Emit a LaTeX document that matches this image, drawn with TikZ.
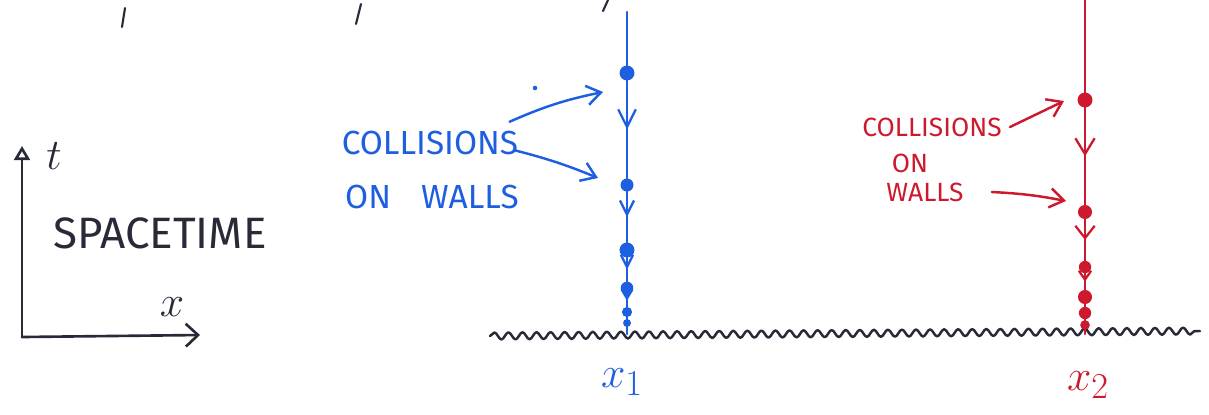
\documentclass[tikz,border=0pt]{standalone}
\usepackage{fontspec}
\setmainfont{Fira Sans}
\usepackage{tikz}
\usetikzlibrary{arrows.meta,positioning,calc,decorations.pathmorphing,decorations.markings}
\definecolor{penblue}{RGB}{30,95,225}
\definecolor{penred}{RGB}{205,25,45}
\definecolor{penink}{RGB}{40,42,55}

\begin{document}
\begin{tikzpicture}[
  x=0.02cm, y=-0.02cm,
  ink/.style={line width=1.5pt,line cap=round,line join=round},
  wl/.style={ink,line width=1.3pt},
  ev/.style={circle,fill,inner sep=0pt,minimum size=#1},
  fall/.style args={#1/#2}{postaction={decorate},decoration={markings,
      mark=at position 0.5 with {\arrow{Straight Barb[length=#1,width=#2,line width=1.3pt]}}}},
  ptr/.style={ink,line width=1.4pt,-{Straight Barb[length=8pt,width=11pt]}},
  walltxt/.style={inner sep=0pt,font=\fontsize{#1}{#1}\selectfont},
  ground/.style={ink,draw=penink,line width=1.4pt,decorate,
      decoration={snake,amplitude=2pt,segment length=8pt}}
]
\useasboundingbox (0,0) rectangle (1209,414);

% stray strokes from the line above
\draw[ink,penink,line width=1.2pt] (125,8) -- (122,27);
\draw[ink,penink,line width=1.2pt] (361,4) -- (356,24);
\draw[ink,penink,line width=1.2pt] (608,0) -- (603,11);

% axes
\coordinate (O) at (22,337);
\coordinate (tend) at (22,146);
\coordinate (xend) at (200,335);
\draw[ink,penink,-{Triangle[open,length=8pt,width=9pt]}] (O) -- (tend);
\draw[ink,penink,-{Straight Barb[length=7pt,width=13pt]}] (O) -- (xend);
\node[penink,font=\fontsize{26}{26}\selectfont] (tlab) at (54,156) {$t$};
\node[penink,font=\fontsize{26}{26}\selectfont] (xlab) at (172,307) {$x$};
\node[penink,walltxt=25] (spacetime) at (160,233) {SPACETIME};

% ground
\coordinate (g0) at (490,336);
\coordinate (g1) at (1200,331);
\draw[ground] (g0) -- (g1);

% blue wall
\coordinate (btop) at (627,12);
\coordinate (bbase) at (627,334);
\draw[wl,penblue] (btop) -- (bbase);
\foreach \n/\y/\s in {1/73/8.5,2/185/7.4,3/250/8.5,4/288/7.2,5/312/5.8,6/323/4.5}
  \node[ev=\s pt,penblue] (b\n) at (627,\y) {};
\foreach \a/\b/\l/\w in {1/2/10pt/10pt,2/3/8pt/8pt,3/4/7pt/7pt,4/5/5pt/6pt}
  \draw[wl,penblue,fall={\l/\w}] (b\a) -- (b\b);

\node[penblue,walltxt=19] (bcoll) at (430,143) {COLLISIONS};
\node[penblue,walltxt=19] (bwall) at (432,197) {ON\hspace{0.9em}WALLS};
\coordinate (bt1) at (603,92);
\coordinate (bt2) at (598,178);
\draw[ptr,penblue] (bcoll.north east) ++(-9,-9) coordinate (bs1)
  to[bend left=6] (bt1);
\draw[ptr,penblue] (bcoll.south east) ++(-4,-5) coordinate (bs2)
  to[bend left=4] (bt2);
\fill[penblue] (535,88) circle (1.3pt);

% red wall
\coordinate (rtop) at (1085,0);
\coordinate (rbase) at (1085,334);
\draw[wl,penred] (rtop) -- (rbase);
\foreach \n/\y/\s in {1/100/8.5,2/212/8,3/267/7,4/297/8,5/313/7,6/325/5.5}
  \node[ev=\s pt,penred] (r\n) at (1085,\y) {};
\foreach \a/\b/\l/\w in {1/2/9pt/11pt,2/3/7pt/11pt,3/4/5pt/7pt}
  \draw[wl,penred,fall={\l/\w}] (r\a) -- (r\b);

\node[penred,walltxt=15] (rcoll) at (932,127) {COLLISIONS};
\node[penred,walltxt=15] (ron) at (910,163) {ON};
\node[penred,walltxt=15] (rwall) at (925,192) {WALLS};
\coordinate (rt1) at (1064,101);
\coordinate (rt2) at (1066,201);
\draw[ptr,penred] ($(rcoll.east)+(8,0)$) -- (rt1);
\draw[ptr,penred] ($(rwall.east)+(28,0)$) to[bend left=4] (rt2);

% positions
\node[penblue,font=\fontsize{28}{28}\selectfont] (x1) at (622,382) {$x_1$};
\node[penred,font=\fontsize{28}{28}\selectfont] (x2) at (1088,385) {$x_2$};
\end{tikzpicture}
\end{document}
